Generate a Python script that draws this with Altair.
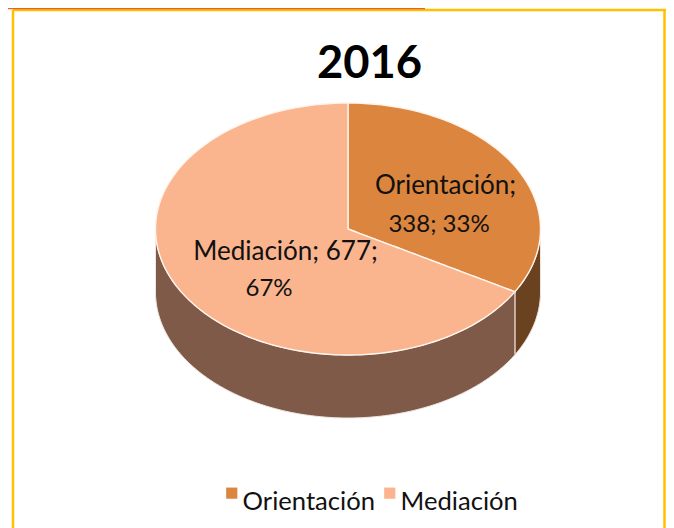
import numpy as np
import pandas as pd
import altair as alt

categories = ["Orientación", "Mediación"]
values = [338, 677]
colors = ["#DC853E", "#FAB58F"]
wall_colors = ["#6B4220", "#7F5A49"]
title_text = "2016"
label_lines = ["Orientación;", "338; 33%", "Mediación; 677;", "67%"]

W, H = 658, 520
CX, CY, RX, RY = 340.0, 221.0, 192.5, 126.0   # pie centre and radii inside the plot
DEPTH = 0.5                                    # wall height, in units of RY

share = values[0] / sum(values)
end = 2 * np.pi * share
xe, ye = np.sin(end), -np.cos(end)


def ell(x):
    return np.sqrt(np.clip(1 - x ** 2, 0, 1))


t = np.linspace(-np.pi / 2, np.pi / 2, 181)
xs = np.sin(t)

rows = []
xo = np.unique(np.concatenate([[0, xe], xs[(xs > 0)]]))
for x in xo:
    low = ye * x / xe if x <= xe else ell(x)
    rows.append(dict(x=x, y=-ell(x), y2=low, cat=categories[0]))
xm = np.unique(np.concatenate([xs[(xs < xe)], [-1e-6, 0, xe]]))
for x in xm:
    up = -ell(x) if x < 0 else ye * x / xe
    rows.append(dict(x=x, y=up, y2=ell(x), cat=categories[1]))
top = pd.DataFrame(rows)

wall_rows = []
for x in np.unique(np.concatenate([xs[xs >= xe], [xe]])):
    wall_rows.append(dict(x=x, y=ell(x), y2=ell(x) + DEPTH, part=categories[0]))
for x in np.unique(np.concatenate([xs[xs <= xe], [xe]])):
    wall_rows.append(dict(x=x, y=ell(x), y2=ell(x) + DEPTH, part=categories[1]))
walls = pd.DataFrame(wall_rows)

xscale = alt.Scale(domain=[-CX / RX, (W - CX) / RX], range=[0, W], nice=False, zero=False)
yscale = alt.Scale(domain=[-CY / RY, (H - CY) / RY], range=[0, H], nice=False, zero=False)

wall_layers = [
    alt.Chart(walls[walls.part == c]).mark_area(
        color=wc, stroke="#EFE6E0", strokeWidth=1, orient="vertical"
    ).encode(
        x=alt.X("x:Q", scale=xscale, axis=None),
        y=alt.Y("y:Q", scale=yscale, axis=None),
        y2="y2:Q",
    )
    for c, wc in zip(categories, wall_colors)
]

top_layer = alt.Chart(top).mark_area(
    stroke="#FFF4EC", strokeWidth=1.4, orient="vertical"
).encode(
    x=alt.X("x:Q", scale=xscale, axis=None),
    y=alt.Y("y:Q", scale=yscale, axis=None),
    y2="y2:Q",
    color=alt.Color(
        "cat:N",
        scale=alt.Scale(domain=categories, range=colors),
        sort=categories,
        legend=alt.Legend(
            title=None, orient="none", legendX=209, legendY=481, direction="horizontal",
            symbolType="M-0.65,-2.6H1.35V-0.6H-0.65Z", symbolSize=125, symbolStrokeWidth=0,
            labelFont="Lato", labelFontSize=25.6, labelColor="#111111",
            labelOffset=0, columnPadding=0, columns=2, labelLimit=200,
        ),
    ),
    stroke=alt.value("#FFF4EC"),
)

labels = pd.DataFrame({
    "t": label_lines,
    "px": [437.5, 431, 277.5, 261],
    "py": [186, 224, 252, 288],
    "fs": [26, 24, 26, 24],
})
text_layer = alt.Chart(labels).mark_text(
    font="Lato", color="#111111", baseline="alphabetic", align="center"
).encode(x=alt.X("sx:Q", scale=xscale, axis=None),
         y=alt.Y("sy:Q", scale=yscale, axis=None),
         size=alt.Size("fs:Q", scale=None),
         text="t:N").transform_calculate(
    sx=f"(datum.px-{CX})/{RX}", sy=f"(datum.py-{CY})/{RY}"
)

title_layer = alt.Chart(pd.DataFrame({"t": [title_text]})).mark_text(
    font="Lato", fontSize=45.3, fontWeight="bold", color="#000000", baseline="alphabetic", align="center"
).encode(x=alt.value(361.5), y=alt.value(70), text="t:N")

frame_color = "#FFC000"
table_color = "#E4622B"
frame_left = alt.Chart(pd.DataFrame({"a": [0]})).mark_rule(color=frame_color, strokeWidth=2.5).encode(
    x=alt.value(5), y=alt.value(2), y2=alt.value(H))
frame_right = alt.Chart(pd.DataFrame({"a": [0]})).mark_rule(color=frame_color, strokeWidth=2.5).encode(
    x=alt.value(656.5), y=alt.value(2), y2=alt.value(H))
frame_top = alt.Chart(pd.DataFrame({"a": [0]})).mark_rule(color=frame_color, strokeWidth=2.5).encode(
    x=alt.value(5), x2=alt.value(658), y=alt.value(2))
table_line = alt.Chart(pd.DataFrame({"a": [0]})).mark_rule(color=table_color, strokeWidth=1.5).encode(
    x=alt.value(0), x2=alt.value(417), y=alt.value(0.5))

chart = alt.layer(
    frame_left, frame_right, frame_top, table_line,
    *wall_layers, top_layer, text_layer, title_layer
).resolve_scale(color="independent").properties(
    width=W, height=H, padding=0, autosize=alt.AutoSizeParams(type="none"),
    background="#FFFFFF",
).configure_view(stroke=None)

chart.save("out.html", embed_options={"renderer": "svg", "actions": False})
